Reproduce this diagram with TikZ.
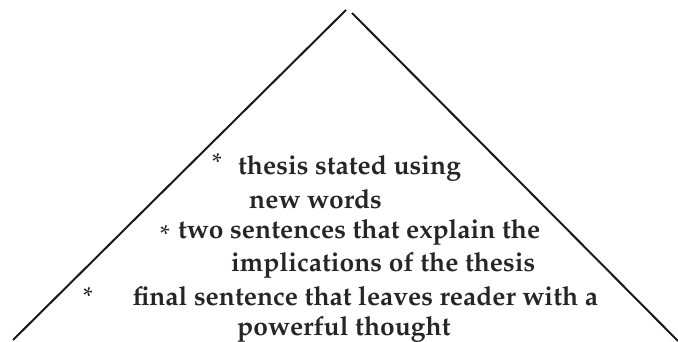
\documentclass[tikz,border=0pt]{standalone}
\usepackage[T1]{fontenc}
\renewcommand{\rmdefault}{ppl}
\begin{document}
\begin{tikzpicture}[x=1pt,y=-1pt,
  txt/.style={anchor=base west,inner sep=0pt,font=\fontsize{26.4}{30}\selectfont\bfseries,text=black!85},
  star/.style={inner sep=0pt,font=\fontsize{26}{28}\selectfont,text=black!85}]
\useasboundingbox (0,0) rectangle (678,342);
\coordinate (apexL) at (346,10);
\coordinate (baseL) at (13,340);
\coordinate (apexR) at (352,13);
\coordinate (baseR) at (678,341);
\draw[line width=2pt,black!90] (apexL) -- (baseL);
\draw[line width=2pt,black!90] (apexR) -- (baseR);
\node[star] (s1) at (217,162) {*};
\node[txt] (l1) at (238,175) {thesis stated using};
\node[txt] (l2) at (249,208) {new words};
\node[star] (s2) at (165,234) {*};
\node[txt] (l3) at (178,239) {two sentences that explain the};
\node[txt] (l4) at (231,272) {implications of the thesis};
\node[star] (s3) at (88,296) {*};
\node[txt] (l5) at (133,305) {final sentence that leaves reader with a};
\node[txt] (l6) at (237,335) {powerful thought};
\end{tikzpicture}
\end{document}
